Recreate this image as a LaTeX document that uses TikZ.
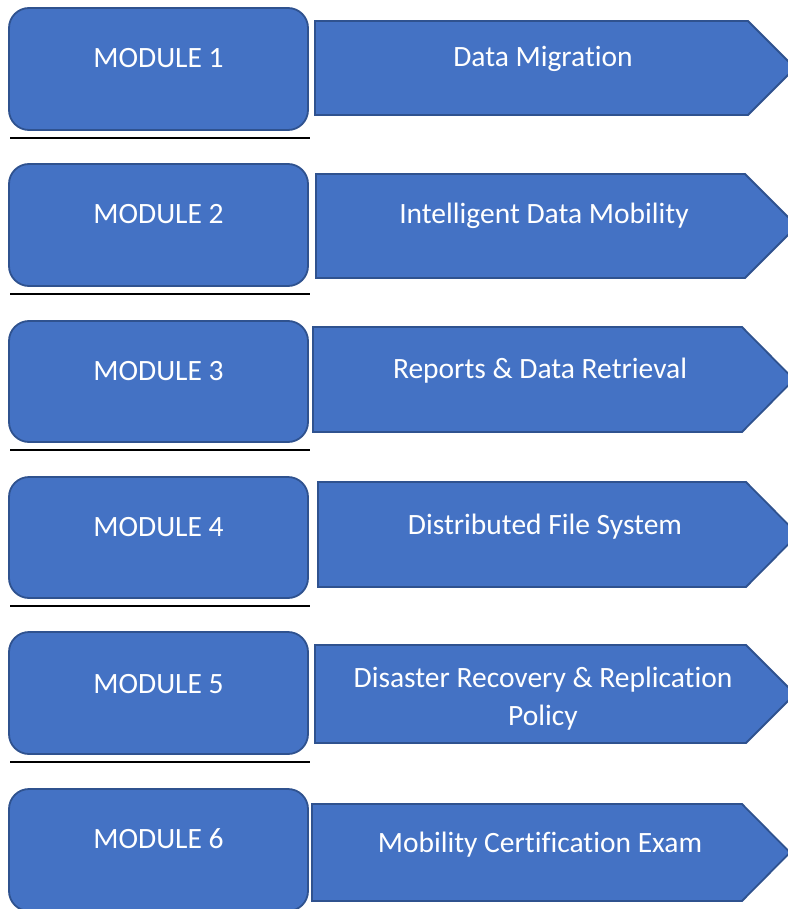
\documentclass[tikz,border=0pt]{standalone}
\usepackage{fontspec}
\setmainfont{Carlito}[Ligatures=NoCommon]
\definecolor{boxfill}{HTML}{4472C4}
\definecolor{boxline}{HTML}{2F528F}
\begin{document}
\begin{tikzpicture}[x=1pt,y=-1pt,
  modbox/.style={fill=boxfill,draw=boxline,line width=1.8pt,rounded corners=20pt},
  arrowbox/.style={fill=boxfill,draw=boxline,line width=1.8pt},
  lbl/.style={text=white,font=\fontsize{29.5}{38}\selectfont,anchor=base,inner sep=0pt},
  rule/.style={line width=2pt,black}]
\useasboundingbox (0,0) rectangle (787,909);
% module boxes
\draw[modbox] (9,8) rectangle (308,130);
\draw[modbox] (9,164) rectangle (308,286);
\draw[modbox] (9,321) rectangle (308,442);
\draw[modbox] (9,477) rectangle (308,598);
\draw[modbox] (9,632) rectangle (308,754);
\draw[modbox] (9,789) rectangle (308,911);
% rules
\coordinate (r1a) at (10,138); \coordinate (r1b) at (310,138);
\coordinate (r2a) at (10,294); \coordinate (r2b) at (310,294);
\coordinate (r3a) at (10,450); \coordinate (r3b) at (310,450);
\coordinate (r4a) at (10,606); \coordinate (r4b) at (310,606);
\coordinate (r5a) at (10,762); \coordinate (r5b) at (310,762);
\draw[rule] (r1a) -- (r1b);
\draw[rule] (r2a) -- (r2b);
\draw[rule] (r3a) -- (r3b);
\draw[rule] (r4a) -- (r4b);
\draw[rule] (r5a) -- (r5b);
% arrows
\draw[arrowbox] (315,21) -- (748,21) -- (795,68) -- (748,115) -- (315,115) -- cycle;
\draw[arrowbox] (316,174) -- (745,174) -- (797,226) -- (745,278) -- (316,278) -- cycle;
\draw[arrowbox] (313,327) -- (742,327) -- (794,379.5) -- (742,432) -- (313,432) -- cycle;
\draw[arrowbox] (318,482) -- (746,482) -- (798,534.5) -- (746,587) -- (318,587) -- cycle;
\draw[arrowbox] (315,645) -- (746,645) -- (795,694) -- (746,743) -- (315,743) -- cycle;
\draw[arrowbox] (312,804) -- (742,804) -- (790,852.5) -- (742,901) -- (312,901) -- cycle;
% labels
\node[lbl] (m1) at (158.5,68) {MODULE 1};
\node[lbl] (m2) at (158.5,223) {MODULE 2};
\node[lbl] (m3) at (158.5,380) {MODULE 3};
\node[lbl] (m4) at (158.5,536) {MODULE 4};
\node[lbl] (m5) at (158.5,693) {MODULE 5};
\node[lbl] (m6) at (158.5,848) {MODULE 6};
\node[lbl] (a1) at (543,67) {Data Migration};
\node[lbl] (a2) at (544,224) {Intelligent Data Mobility};
\node[lbl] (a3) at (540,378) {Reports \& Data Retrieval};
\node[lbl] (a4) at (545,534) {Distributed File System};
\node[lbl] (a5) at (543,687) {Disaster Recovery \& Replication};
\node[lbl] (a5b) at (543,725) {Policy};
\node[lbl] (a6) at (540,852) {Mobility Certification Exam};
\end{tikzpicture}
\end{document}
